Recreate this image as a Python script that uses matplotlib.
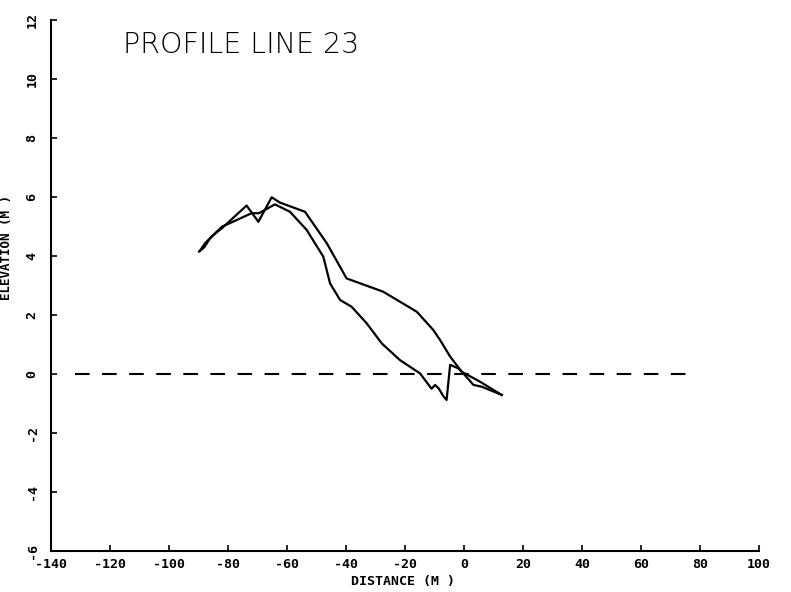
import numpy as np
import matplotlib.pyplot as plt

plt.rcParams['axes.unicode_minus'] = False

# ---------------------------------------------------------
# DATA
# ---------------------------------------------------------

# first survey line
dist_a = [-89.5, -87.8, -85.0, -82.1, -73.7, -69.7, -65.2, -62.4, -53.9,
          -46.5, -39.8, -27.4, -16.0, -10.4, -8.1, -4.7, -0.8, 5.4, 12.8]
elev_a = [4.18, 4.43, 4.71, 4.94, 5.71, 5.16, 5.99, 5.81, 5.50,
          4.43, 3.24, 2.79, 2.11, 1.49, 1.15, 0.59, 0.08, -0.26, -0.71]

# second survey line
dist_b = [-89.8, -88.0, -86.1, -82.1, -72.0, -69.5, -64.1, -59.0, -53.3,
          -51.2, -47.7, -45.4, -42.0, -38.1, -33.0, -27.9, -21.7, -14.9,
          -12.5, -11.0, -9.8, -8.5, -7.0, -5.9, -4.7, -1.9, -0.2, 3.2,
          6.0, 12.8]
elev_b = [4.15, 4.30, 4.60, 4.99, 5.45, 5.45, 5.75, 5.50, 4.88,
          4.54, 3.98, 3.07, 2.51, 2.28, 1.72, 1.04, 0.47, 0.02,
          -0.30, -0.50, -0.37, -0.50, -0.75, -0.88, 0.31, 0.19, 0.02, -0.37,
          -0.43, -0.71]

# datum (mean sea level)
datum_x = [-132, 77]
datum_y = [0, 0]

xticks = np.arange(-140, 101, 20)
yticks = np.arange(-6, 13, 2)

# ---------------------------------------------------------
# PLOTTING
# ---------------------------------------------------------

fig = plt.figure(figsize=(7.91, 5.92), dpi=100)
ax = fig.add_axes([51/791, 41/592, 708/791, 531/592])

ax.plot(dist_a, elev_a, color='black', linewidth=1.6)
ax.plot(dist_b, elev_b, color='black', linewidth=1.6)
ax.plot(datum_x, datum_y, color='black', linewidth=1.5, linestyle=(0, (7, 6)))

ax.set_xlim(-140, 100)
ax.set_ylim(-6, 12)

for s in ['top', 'right']:
    ax.spines[s].set_visible(False)
for s in ['left', 'bottom']:
    ax.spines[s].set_linewidth(1.5)

tick_font = dict(family='DejaVu Sans Mono', weight='bold', size=9.5)

ax.set_xticks(xticks)
ax.set_xticklabels([str(v) for v in xticks], fontdict=tick_font)
ax.set_yticks(yticks)
ax.set_yticklabels([str(v) for v in yticks], fontdict=tick_font,
                   rotation=90, va='center')
ax.tick_params(axis='both', direction='in', length=4, width=1.2)
ax.tick_params(axis='x', pad=5)
ax.tick_params(axis='y', pad=9)

ax.set_xlabel('DISTANCE (M )', fontdict=tick_font)
ax.set_ylabel('ELEVATION (M )', fontdict=dict(tick_font, size=9))
ax.xaxis.set_label_coords(0.497, -0.045)
ax.yaxis.set_label_coords(-0.054, 0.571)

fig.text(123/791, 1 - 53/592, 'PROFILE LINE 23', fontsize=20.5,
         family='DejaVu Sans', weight='light', va='baseline', ha='left')

plt.savefig('out.png', dpi=100)
